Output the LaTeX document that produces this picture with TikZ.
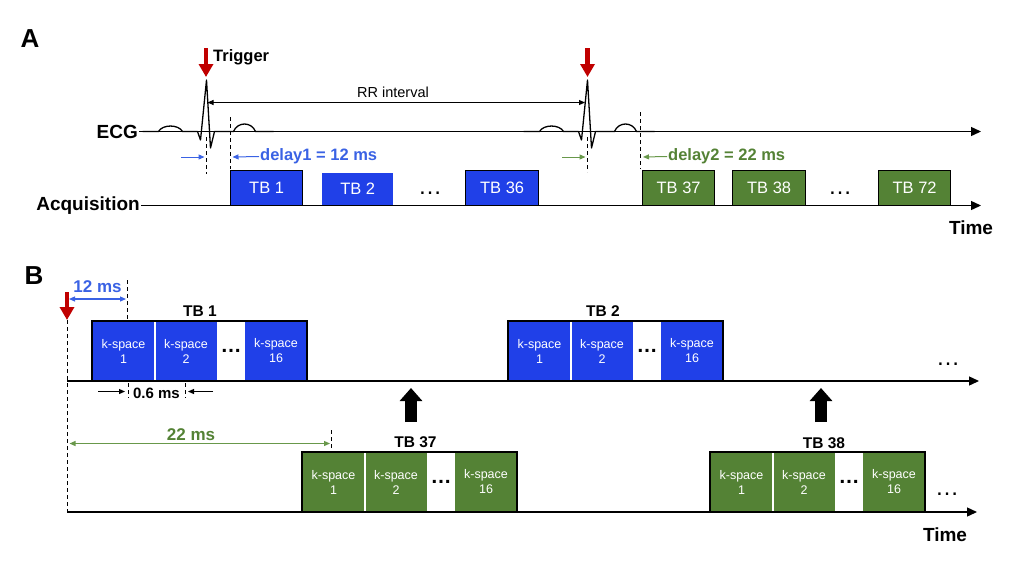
\documentclass[tikz,border=0pt]{standalone}
\usepackage{fontspec}
\setmainfont{Liberation Sans}
\usetikzlibrary{arrows.meta,positioning}
\definecolor{tbblue}{RGB}{32,64,232}
\definecolor{lblue}{RGB}{58,98,228}
\definecolor{tbgreen}{RGB}{84,130,53}
\definecolor{lgreen}{RGB}{104,152,74}
\definecolor{trigred}{RGB}{192,0,0}
\newcommand\myfs[1]{\fontsize{#1}{#1}\selectfont}
\newcommand\kblock[4]{%
  \node[kcell, anchor=north west, fill=#4, minimum width=63pt] (#1a) at (#2,#3) {k-space\\1};
  \node[kcell, fill=#4, minimum width=62pt, right=0pt of #1a] (#1b) {k-space\\2};
  \node[kcell, fill=white, minimum width=28pt, right=0pt of #1b, text=black, font=\myfs{21}\bfseries] (#1g) {…};
  \node[kcell, fill=#4, minimum width=62pt, right=0pt of #1g] (#1c) {k-space\\16};
  \draw[white, line width=1.5pt] (#1a.north east) -- (#1a.south east);
  \draw[line width=1.5pt] (#1a.north west) rectangle (#1c.south east);
}
\tikzset{
  lbl/.style={font=\myfs{19}\bfseries, inner sep=1pt},
  axis/.style={line width=1.3pt, -{Triangle[length=10pt,width=9pt]}},
  ecgw/.style={line width=1.3pt, line join=round},
  vdash/.style={line width=0.8pt, dash pattern=on 4pt off 3pt},
  tbA/.style={anchor=north west, minimum height=35pt, minimum width=72pt, inner sep=0pt, font=\myfs{16.5}, text=white},
  kcell/.style={minimum height=60pt, inner sep=0pt, outer sep=0pt, text=white, align=center, font=\fontsize{12.5}{15}\selectfont},
  trig/.style={trigred, line width=4.5pt, -{Triangle[length=13pt,width=14pt]}},
  bigup/.style={black, line width=11.5pt, -{Triangle[length=13pt,width=22pt]}},
  rrarr/.style={line width=0.9pt, {Triangle[length=6pt,width=5pt]}-{Triangle[length=6pt,width=5pt]}},
  smarr/.style={line width=1pt, -{Triangle[length=6pt,width=5pt]}},
  dblarr/.style={line width=1.2pt, {Triangle[length=6pt,width=5pt]}-{Triangle[length=6pt,width=5pt]}},
  blbl/.style={font=\myfs{15.5}\bfseries, inner sep=1pt},
  dots/.style={font=\myfs{24}, inner sep=0pt},
}
\begin{document}
\begin{tikzpicture}[x=1pt,y=-1pt]
\useasboundingbox (0,0) rectangle (1024,576);
% ===================== Panel A =====================
\node[font=\myfs{26}\bfseries] (pA) at (30,39) {A};
\node[lbl, anchor=east] (ecg) at (139,131.5) {ECG};
\coordinate (ecgend) at (981,131.5);
\draw[axis] (ecg.east) -- (ecgend);
\node[lbl, anchor=east] (acq) at (141,205.5) {Acquisition};
\coordinate (acqend) at (981,205.5);
\draw[axis] (acq.east) -- (acqend);
\node[lbl] (timeA) at (971,228) {Time};
% ECG beats
\foreach \xr in {206.5,587.5}{
  \begin{scope}[xshift=\xr pt]
  \draw[ecgw] (-64,131.5) -- (-48,131.5) .. controls (-44,124.2) and (-28,124.2) .. (-24,131.5)
     -- (-9,131.5) -- (-6,140) -- (0,80) -- (4,148) -- (8,131.5) -- (27,131.5)
     .. controls (31,121.5) and (45,121.5) .. (49,131.5) -- (67,131.5);
  \end{scope}
}
% trigger arrows
\coordinate (tA1s) at (206,48); \coordinate (tA1e) at (206,77);
\draw[trig] (tA1s) -- (tA1e);
\coordinate (tA2s) at (587.5,48); \coordinate (tA2e) at (587.5,77);
\draw[trig] (tA2s) -- (tA2e);
\node[font=\myfs{16.5}\bfseries, anchor=west, inner sep=1pt] (trg) at (212,57) {Trigger};
% RR interval
\node[font=\myfs{14.5}] (rr) at (393,92) {RR interval};
\coordinate (rrL) at (207.5,102.5); \coordinate (rrR) at (585,102.5);
\draw[rrarr] (rrL) -- (rrR);
% dashed markers
\coordinate (dq1a) at (206.5,137); \coordinate (dq1b) at (206.5,174);
\draw[vdash] (dq1a) -- (dq1b);
\coordinate (dt1a) at (230,117); \coordinate (dt1b) at (230,169);
\draw[vdash] (dt1a) -- (dt1b);
\coordinate (dq2a) at (587.5,137); \coordinate (dq2b) at (587.5,172);
\draw[vdash] (dq2a) -- (dq2b);
\coordinate (dt2a) at (640.5,112); \coordinate (dt2b) at (640.5,169);
\draw[vdash] (dt2a) -- (dt2b);
% delays
\node[font=\myfs{16.5}\bfseries, text=lblue, anchor=west, inner sep=1pt] (d1) at (259,156.5) {delay1 = 12 ms};
\coordinate (d1a) at (181,157); \coordinate (d1b) at (204.5,157); \coordinate (d1c) at (232.5,157);
\draw[smarr, lblue] (d1a) -- (d1b);
\draw[smarr, lblue] (d1.west) -- (d1c);
\node[font=\myfs{16.5}\bfseries, text=tbgreen, anchor=west, inner sep=1pt] (d2) at (667,156.5) {delay2 = 22 ms};
\coordinate (d2a) at (562,157); \coordinate (d2b) at (585.5,157); \coordinate (d2c) at (643,157);
\draw[smarr, lgreen] (d2a) -- (d2b);
\draw[smarr, lgreen] (d2.west) -- (d2c);
% TB boxes
\node[tbA, fill=tbblue, draw=black, line width=1.3pt] (a1) at (230,170) {TB 1};
\node[tbA, fill=tbblue, minimum width=71pt, minimum height=32.5pt] (a2) at (322,172.5) {TB 2};
\node[dots] (adots1) at (430,193) {…};
\node[tbA, fill=tbblue, draw=black, line width=1.3pt, minimum width=73pt] (a36) at (465,170) {TB 36};
\node[tbA, fill=tbgreen, draw=black, line width=1.3pt] (a37) at (642,170) {TB 37};
\node[tbA, fill=tbgreen, draw=black, line width=1.3pt, minimum width=73pt] (a38) at (732,170) {TB 38};
\node[dots] (adots2) at (840,193) {…};
\node[tbA, fill=tbgreen, draw=black, line width=1.3pt] (a72) at (878,170) {TB 72};
% ===================== Panel B =====================
\node[font=\myfs{26}\bfseries] (pB) at (34,276) {B};
\coordinate (b1s) at (67,381); \coordinate (b1e) at (979,381);
\draw[axis] (b1s) -- (b1e);
\coordinate (b2s) at (67,512); \coordinate (b2e) at (977,512);
\draw[axis] (b2s) -- (b2e);
\node[lbl] (timeB) at (945,535) {Time};
% trigger + dashed
\coordinate (tBs) at (67,292); \coordinate (tBe) at (67,320);
\draw[vdash] (tBe) -- (b2s);
\draw[trig] (tBs) -- (tBe);
% 12 ms
\node[font=\myfs{17}\bfseries, text=lblue, inner sep=1pt] (t12) at (97.5,286.5) {12 ms};
\coordinate (m12a) at (69,299); \coordinate (m12b) at (126,299);
\draw[dblarr, lblue] (m12a) -- (m12b);
\coordinate (dd12a) at (127.5,280); \coordinate (dd12b) at (127.5,320);
\draw[vdash] (dd12a) -- (dd12b);
% 22 ms
\node[font=\myfs{17}\bfseries, text=tbgreen, inner sep=1pt] (t22) at (191,435) {22 ms};
\coordinate (m22a) at (69.5,443.5); \coordinate (m22b) at (330,443.5);
\draw[dblarr, lgreen] (m22a) -- (m22b);
\coordinate (dd22a) at (331.5,430); \coordinate (dd22b) at (331.5,453);
\draw[vdash] (dd22a) -- (dd22b);
% blocks
\kblock{bA}{92}{321}{tbblue}
\kblock{bB}{508}{321}{tbblue}
\kblock{bC}{302}{452}{tbgreen}
\kblock{bD}{710}{452}{tbgreen}
\node[blbl] (lb1) at (200,311.5) {TB 1};
\node[blbl] (lb2) at (603,311) {TB 2};
\node[blbl] (lb37) at (415.5,442.5) {TB 37};
\node[blbl] (lb38) at (824,443) {TB 38};
% 0.6 ms
\node[font=\myfs{15}\bfseries, inner sep=1pt] (t06) at (156.5,393) {0.6 ms};
\coordinate (d06a) at (128,383); \coordinate (d06b) at (128,398);
\draw[vdash] (d06a) -- (d06b);
\coordinate (d06c) at (185,383); \coordinate (d06d) at (185,398);
\draw[vdash] (d06c) -- (d06d);
\coordinate (a06a) at (98,391.5); \coordinate (a06b) at (125,391.5);
\draw[smarr, line width=1.2pt] (a06a) -- (a06b);
\coordinate (a06c) at (213,391.5); \coordinate (a06d) at (188,391.5);
\draw[smarr, line width=1.2pt] (a06c) -- (a06d);
% black up arrows
\coordinate (u1s) at (411,422); \coordinate (u1e) at (411,388);
\draw[bigup] (u1s) -- (u1e);
\coordinate (u2s) at (821,422); \coordinate (u2e) at (821,388);
\draw[bigup] (u2s) -- (u2e);
% trailing dots
\node[dots] (bdots1) at (948,364) {…};
\node[dots] (bdots2) at (947,494) {…};
\end{tikzpicture}
\end{document}
